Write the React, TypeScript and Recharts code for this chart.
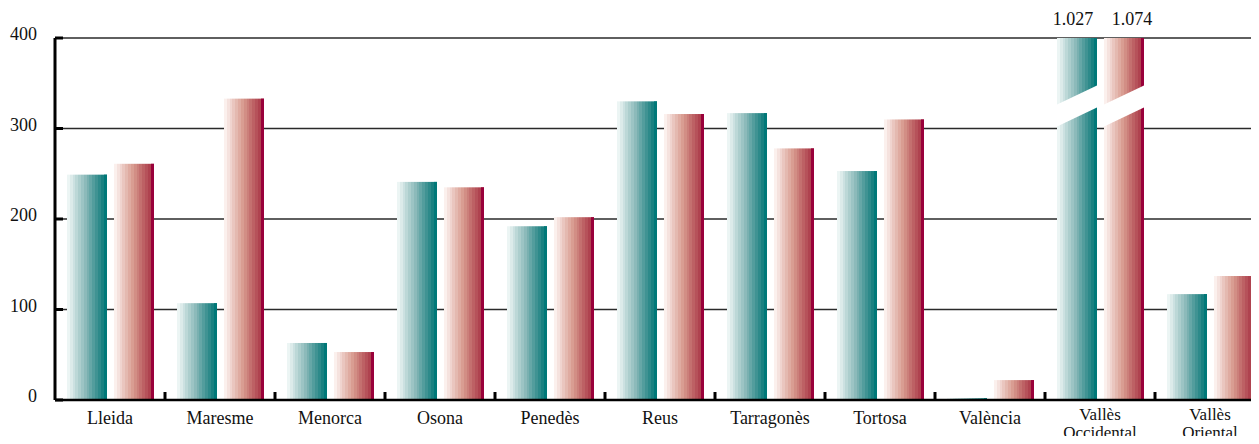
import React from 'react';
import { BarChart, Bar, XAxis, YAxis, CartesianGrid } from 'recharts';

const categories = [
  'Lleida', 'Maresme', 'Menorca', 'Osona', 'Penedès', 'Reus',
  'Tarragonès', 'Tortosa', 'València', 'Vallès Occidental', 'Vallès Oriental',
];
const serieA = [249, 107, 63, 241, 192, 330, 317, 253, 2, 1027, 117];
const serieB = [261, 333, 53, 235, 202, 316, 278, 310, 22, 1074, 137];
const yTicks = [0, 100, 200, 300, 400];
const axisMax = 400;

const data = categories.map((name, i) => ({
  name,
  a: Math.min(serieA[i], axisMax),
  b: Math.min(serieB[i], axisMax),
  aReal: serieA[i],
  bReal: serieB[i],
}));

const FONT = '"Liberation Serif", "DejaVu Serif", serif';
const FS = 18;

type RGB = [number, number, number];
const hex = (c: RGB) => '#' + c.map((v) => Math.round(v).toString(16).padStart(2, '0')).join('');
const mix = (a: RGB, b: RGB, t: number): RGB => [0, 1, 2].map((k) => a[k] + (b[k] - a[k]) * t) as RGB;

// stepped (banded) gradient: light -> mid -> dark
function bandStops(light: RGB, mid: RGB, dark: RGB, steps: number, lastWidth: number) {
  const stops: { offset: number; color: string }[] = [];
  const bandW = (1 - lastWidth) / steps;
  for (let i = 0; i < steps; i++) {
    const t = i / steps;
    const c = t < 0.5 ? mix(light, mid, t / 0.5) : mix(mid, dark, (t - 0.5) / 0.5);
    stops.push({ offset: i * bandW, color: hex(c) });
    stops.push({ offset: (i + 1) * bandW, color: hex(c) });
  }
  stops.push({ offset: 1 - lastWidth, color: hex(dark) });
  stops.push({ offset: 1, color: hex(dark) });
  return stops;
}

const tealStops = bandStops([236, 245, 244], [140, 186, 186], [26, 128, 128], 12, 0.16);
const redStops = bandStops([251, 240, 237], [214, 150, 138], [168, 52, 68], 13, 0.08);

function makeShape(realKey: 'aReal' | 'bReal', gradId: string, darkEdge: string, labelDx: number) {
  return (props: any) => {
    const { x, y, width, height, payload } = props;
    const real = payload[realKey];
    const broken = real > axisMax;
    return (
      <g>
        <rect x={x} y={y} width={width} height={height} fill={`url(#${gradId})`} />
        <rect x={x + width - 3} y={y} width={3} height={height} fill={darkEdge} />
        {broken && (
          <>
            <polygon
              points={`${x - 1},${y + 67} ${x + width + 1},${y + 47} ${x + width + 1},${y + 69} ${x - 1},${y + 89}`}
              fill="#fff"
            />
            <text
              x={x + width / 2 + labelDx}
              y={y - 13}
              textAnchor="middle"
              fontFamily={FONT}
              fontSize={FS}
              fill="#111"
            >
              {real.toLocaleString('de-DE')}
            </text>
          </>
        )}
      </g>
    );
  };
}

function XTick(props: any) {
  const { x, y, payload } = props;
  const half = payload.offset || 55;
  const lines = String(payload.value).split(' ');
  const axisY = y - 24;
  const multi = lines.length > 1;
  return (
    <g>
      {payload.index > 0 && (
        <line x1={x - half} x2={x - half} y1={axisY - 8} y2={axisY} stroke="#000" strokeWidth={3} />
      )}
      <text x={x} y={axisY + (multi ? 20 : 24)} textAnchor="middle" fontFamily={FONT} fontSize={multi ? 17 : FS} fill="#111">
        {lines.map((l, i) => (
          <tspan key={i} x={x} dy={i === 0 ? 0 : 18}>{l}</tspan>
        ))}
      </text>
    </g>
  );
}

function YTick(props: any) {
  const { x, y, payload } = props;
  return (
    <text x={x} y={y + 2} textAnchor="end" fontFamily={FONT} fontSize={FS} fill="#111">
      {payload.value}
    </text>
  );
}

export default function App() {
  return (
    <div style={{ margin: -8, width: 1259, height: 444, overflow: 'hidden', background: '#fff' }}>
      <BarChart
        width={1270}
        height={444}
        data={data}
        margin={{ top: 38, right: 5, bottom: 0, left: 0 }}
        barGap={7}
        barSize={40}
      >
        <defs>
          <linearGradient id="gTeal" x1="0" y1="0" x2="1" y2="0">
            {tealStops.map((s, i) => (
              <stop key={i} offset={s.offset} stopColor={s.color} />
            ))}
          </linearGradient>
          <linearGradient id="gRed" x1="0" y1="0" x2="1" y2="0">
            {redStops.map((s, i) => (
              <stop key={i} offset={s.offset} stopColor={s.color} />
            ))}
          </linearGradient>
        </defs>
        <CartesianGrid vertical={false} stroke="#2a2a2a" strokeWidth={1.5} />
        <YAxis
          width={55}
          domain={[0, axisMax]}
          ticks={yTicks}
          interval={0}
          axisLine={{ stroke: '#000', strokeWidth: 3 }}
          tickLine={{ stroke: '#000', strokeWidth: 3 }}
          tickSize={-8}
          tickMargin={26}
          tick={<YTick />}
        />
        <XAxis
          dataKey="name"
          height={44}
          interval={0}
          axisLine={{ stroke: '#000', strokeWidth: 2.5 }}
          tickLine={false}
          tickSize={0}
          tickMargin={24}
          tick={<XTick />}
        />
        <Bar dataKey="a" isAnimationActive={false} shape={makeShape('aReal', 'gTeal', '#007878', -4)} />
        <Bar dataKey="b" isAnimationActive={false} shape={makeShape('bReal', 'gRed', '#99003a', 8)} />
      </BarChart>
    </div>
  );
}
